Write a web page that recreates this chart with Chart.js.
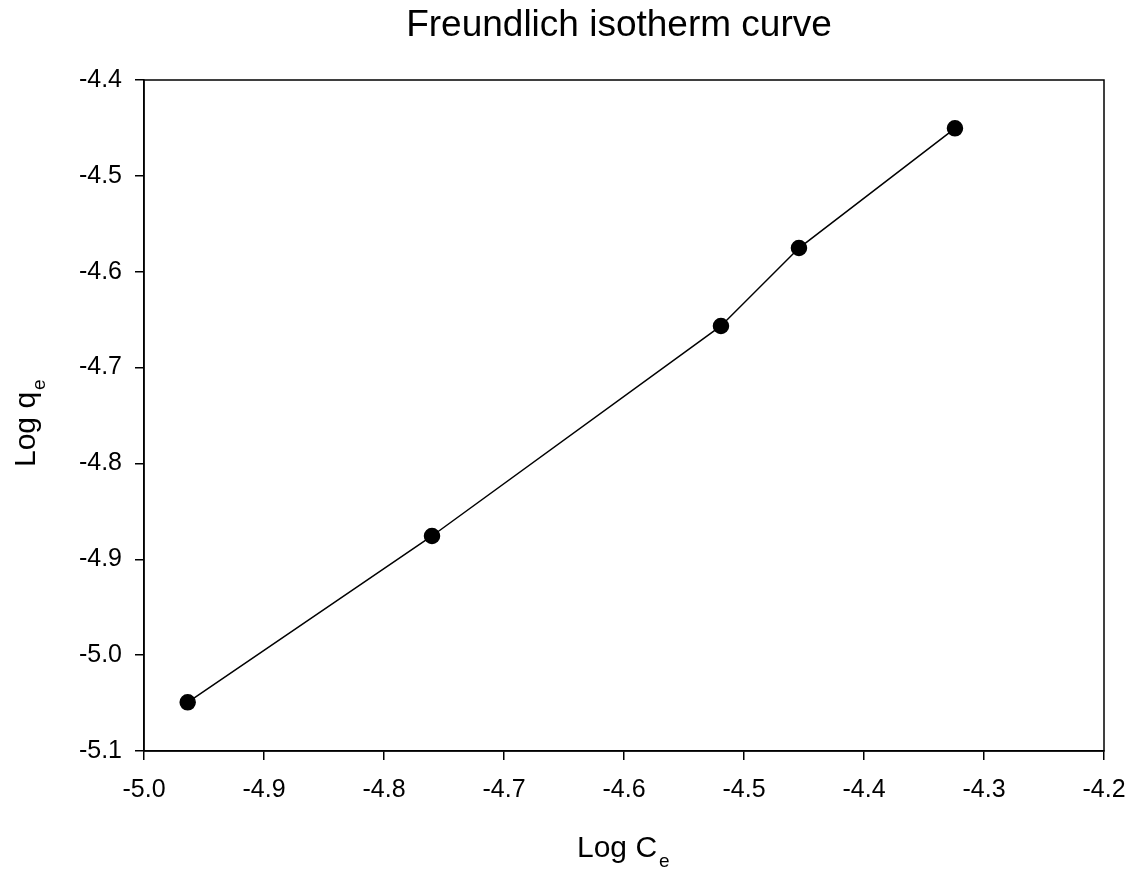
<!DOCTYPE html>
<html>
<head>
<meta charset="utf-8">
<script src="https://cdn.jsdelivr.net/npm/chart.js@4/dist/chart.umd.min.js"></script>
<style>
html,body{margin:0;padding:0;background:#fff;}
#wrap{width:1134px;height:872px;position:relative;}
</style>
</head>
<body>
<div id="wrap"><canvas id="c" width="1134" height="872"></canvas></div>
<script>
const titleText = "Freundlich isotherm curve";
const xTitleMain = "Log C";
const yTitleMain = "Log q";
const titleSub = "e";
const logCe = [-4.9636, -4.760, -4.5192, -4.4542, -4.3242];
const logQe = [-5.0492, -4.8757, -4.6566, -4.5753, -4.4504];
const xTicks = [-5.0, -4.9, -4.8, -4.7, -4.6, -4.5, -4.4, -4.3, -4.2];
const yTicks = [-5.1, -5.0, -4.9, -4.8, -4.7, -4.6, -4.5, -4.4];

const FONT = "'Liberation Sans', Arial, sans-serif";

const decor = {
  id: 'decor',
  afterDraw(chart) {
    const ctx = chart.ctx, a = chart.chartArea;
    ctx.save();
    // frame
    ctx.strokeStyle = '#000';
    ctx.lineWidth = 1.5;
    ctx.strokeRect(a.left, a.top, a.right - a.left, a.bottom - a.top);
    // title
    ctx.fillStyle = '#000';
    ctx.font = '37px ' + FONT;
    ctx.textAlign = 'center';
    ctx.textBaseline = 'alphabetic';
    ctx.fillText(titleText, 619, 36);
    // x title
    ctx.textAlign = 'left';
    ctx.font = '30px ' + FONT;
    const mw = ctx.measureText(xTitleMain).width;
    const x0 = 577;
    ctx.fillText(xTitleMain, x0, 857);
    ctx.font = '19px ' + FONT;
    ctx.fillText(titleSub, x0 + mw + 2, 867);
    // y title
    ctx.translate(35, 467);
    ctx.rotate(-Math.PI / 2);
    ctx.font = '30px ' + FONT;
    const ymw = ctx.measureText(yTitleMain).width;
    ctx.fillText(yTitleMain, 0, 0);
    ctx.font = '19px ' + FONT;
    ctx.fillText(titleSub, ymw + 2, 10);
    ctx.restore();
  }
};

new Chart(document.getElementById('c'), {
  type: 'scatter',
  data: {
    datasets: [{
      data: logCe.map((x, i) => ({x: x, y: logQe[i]})),
      showLine: true,
      borderColor: '#000',
      borderWidth: 1.5,
      backgroundColor: '#000',
      pointBackgroundColor: '#000',
      pointBorderColor: '#000',
      pointRadius: 7.5,
      pointHoverRadius: 7.5,
      tension: 0
    }]
  },
  options: {
    responsive: false,
    animation: false,
    layout: {padding: {top: 80, right: 30, left: 0, bottom: 0}},
    plugins: {legend: {display: false}, tooltip: {enabled: false}, title: {display: false}},
    scales: {
      x: {
        type: 'linear',
        min: -5.0, max: -4.2,
        afterBuildTicks(s) { s.ticks = xTicks.map(v => ({value: v})); },
        afterFit(s) { s.height = 121; s.paddingLeft = 0; s.paddingRight = 0; },
        grid: {drawOnChartArea: false, drawTicks: true, tickLength: 9, color: '#000', lineWidth: 1.5},
        border: {display: true, color: '#000', width: 1.5},
        ticks: {color: '#000', font: {family: FONT, size: 25}, padding: 15, maxRotation: 0,
                callback: v => v.toFixed(1)}
      },
      y: {
        type: 'linear',
        min: -5.1, max: -4.4,
        afterBuildTicks(s) { s.ticks = yTicks.map(v => ({value: v})); },
        afterFit(s) { s.width = 144; s.paddingTop = 0; s.paddingBottom = 0; },
        grid: {drawOnChartArea: false, drawTicks: true, tickLength: 9, color: '#000', lineWidth: 1.5},
        border: {display: true, color: '#000', width: 1.5},
        ticks: {color: '#000', font: {family: FONT, size: 25}, padding: 13,
                callback: v => v.toFixed(1)}
      }
    }
  },
  plugins: [decor]
});
</script>
</body>
</html>
